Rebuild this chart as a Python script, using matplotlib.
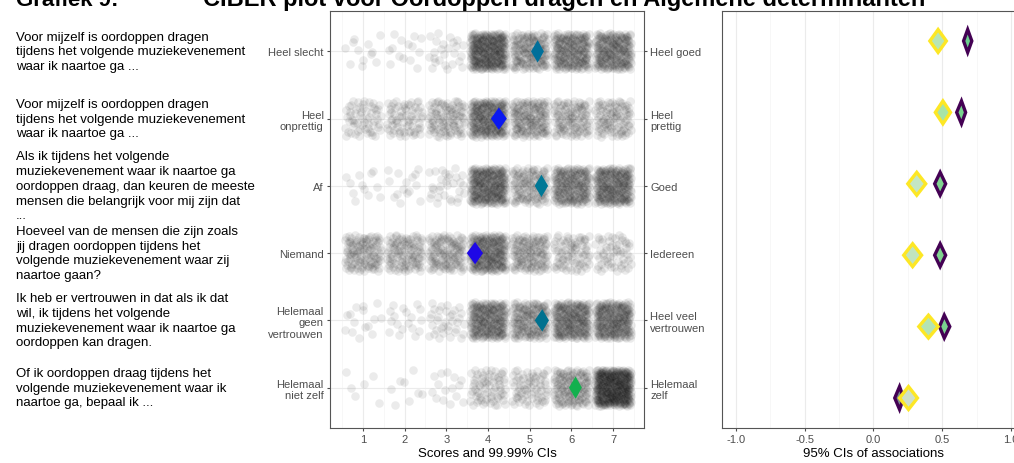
import numpy as np
import matplotlib
matplotlib.use('Agg')
from matplotlib import pyplot as plt
from matplotlib.patches import Polygon
from matplotlib.transforms import blended_transform_factory

plt.rcParams['font.family'] = ['Liberation Sans', 'DejaVu Sans']

# questions (left column), anchors left / right
questions = [
    'Voor mijzelf is oordoppen dragen\ntijdens het volgende muziekevenement\nwaar ik naartoe ga ...',
    'Voor mijzelf is oordoppen dragen\ntijdens het volgende muziekevenement\nwaar ik naartoe ga ...',
    'Als ik tijdens het volgende\nmuziekevenement waar ik naartoe ga\noordoppen draag, dan keuren de meeste\nmensen die belangrijk voor mij zijn dat\n...',
    'Hoeveel van de mensen die zijn zoals\njij dragen oordoppen tijdens het\nvolgende muziekevenement waar zij\nnaartoe gaan?',
    'Ik heb er vertrouwen in dat als ik dat\nwil, ik tijdens het volgende\nmuziekevenement waar ik naartoe ga\noordoppen kan dragen.',
    'Of ik oordoppen draag tijdens het\nvolgende muziekevenement waar ik\nnaartoe ga, bepaal ik ...',
]
anchors_low = ['Heel slecht', 'Heel\nonprettig', 'Af', 'Niemand',
               'Helemaal\ngeen\nvertrouwen', 'Helemaal\nniet zelf']
anchors_high = ['Heel goed', 'Heel\nprettig', 'Goed', 'Iedereen',
                'Heel veel\nvertrouwen', 'Helemaal\nzelf']

# number of respondents per score 1..7 (estimated from point density)
scores = [1, 2, 3, 4, 5, 6, 7]
counts = [
    [12, 14, 25, 280, 150, 200, 210],
    [60, 70, 100, 230, 150, 110, 100],
    [12, 15, 30, 250, 120, 200, 230],
    [120, 110, 120, 230, 130, 80, 60],
    [15, 18, 35, 220, 160, 220, 230],
    [6, 8, 15, 70, 70, 140, 380],
]

# means and 99.99% CIs
mean_lo = [5.03, 4.07, 5.12, 3.49, 5.12, 5.94]
mean_mid = [5.19, 4.26, 5.28, 3.69, 5.30, 6.10]
mean_hi = [5.34, 4.45, 5.44, 3.88, 5.46, 6.25]
mean_colors = ['#006f9a', '#0a18f0', '#007896', '#1e08e6', '#00718f', '#12b04e']

# 95% CIs of associations (two targets)
assoc1_lo = [0.655, 0.605, 0.445, 0.445, 0.48, 0.155]
assoc1_mid = [0.685, 0.64, 0.485, 0.485, 0.515, 0.19]
assoc1_hi = [0.715, 0.67, 0.525, 0.525, 0.555, 0.22]
assoc1_fill = ['#6ccf8e', '#78d48e', '#80d490', '#80d490', '#7ad290', '#7a8a8a']
assoc2_lo = [0.41, 0.45, 0.25, 0.22, 0.33, 0.19]
assoc2_mid = [0.47, 0.505, 0.315, 0.285, 0.40, 0.255]
assoc2_hi = [0.53, 0.56, 0.38, 0.35, 0.47, 0.32]
assoc2_fill = ['#b8e6b4', '#a8e4a8', '#c4e6c4', '#c0e4c0', '#b4e4b4', '#cfe0c8']

rows = np.arange(1, len(questions) + 1)


def diamond(ax, lo, mid, hi, y, h, face, edge='none', lw=0):
    pts = [(lo, y), (mid, y - h), (hi, y), (mid, y + h)]
    ax.add_patch(Polygon(pts, closed=True, facecolor=face, edgecolor=edge,
                         linewidth=lw, joinstyle='miter', zorder=5))


def halton(idx, base):
    out = np.zeros(len(idx))
    f = 1.0
    idx = idx.copy()
    while np.any(idx > 0):
        f /= base
        out += f * (idx % base)
        idx //= base
    return out


def jitter(n, start):
    # deterministic even spread (Halton sequence)
    i = np.arange(start, start + n)
    return halton(i, 2) - 0.5, halton(i, 3) - 0.5


fig = plt.figure(figsize=(10.14, 4.64), dpi=100)

ax = fig.add_axes([330 / 1014, 1 - 429 / 464, 314 / 1014, 417 / 464])
ax.set_xlim(0.21, 7.74)
ax.set_ylim(6.6, 0.4)

for r, row_counts in zip(rows, counts):
    for s, c in zip(scores, row_counts):
        dx, dy = jitter(c, 17 * r + 41 * s)
        ax.scatter(s + dx * 0.86, r + dy * 0.54, s=38, color='black',
                   alpha=0.08, linewidths=0, zorder=3)

for r in rows:
    i = r - 1
    diamond(ax, mean_lo[i], mean_mid[i], mean_hi[i], r, 0.167, mean_colors[i])

ax.set_xticks(scores)
ax.set_xticks(np.arange(0.5, 8, 1), minor=True)
ax.set_yticks(rows)
ax.set_yticklabels(anchors_low)
ax.grid(True, which='major', color='#ebebeb', lw=0.8, zorder=0)
ax.grid(True, which='minor', axis='x', color='#f4f4f4', lw=0.5, zorder=0)
ax.set_axisbelow(True)
ax.tick_params(which='minor', length=0)
ax.tick_params(axis='both', labelsize=8, labelcolor='#4d4d4d', color='#4d4d4d',
               length=2.5, width=0.8, pad=2)
for sp in ax.spines.values():
    sp.set_color('#555555')
    sp.set_linewidth(0.8)
ax.set_xlabel('Scores and 99.99% CIs', fontsize=9.5, labelpad=2)

ax2 = ax.twinx()
ax2.set_ylim(6.6, 0.4)
ax2.set_yticks(rows)
ax2.set_yticklabels(anchors_high)
ax2.tick_params(axis='y', labelsize=8, labelcolor='#4d4d4d', color='#4d4d4d',
                length=2.5, width=0.8, pad=2)
for sp in ax2.spines.values():
    sp.set_visible(False)

# question texts
tr = blended_transform_factory(fig.transFigure, ax.transData)
for r, q in zip(rows, questions):
    ax.text(16 / 1014, r, q, transform=tr, ha='left', va='center',
            fontsize=9.5, linespacing=1.3, color='black', clip_on=False)

# associations panel
bx = fig.add_axes([722 / 1014, 1 - 429 / 464, 302.8 / 1014, 417 / 464])
bx.set_xlim(-1.1, 1.1)
bx.set_ylim(6.42, 0.58)
for r in rows:
    i = r - 1
    diamond(bx, assoc1_lo[i], assoc1_mid[i], assoc1_hi[i], r, 0.16,
            assoc1_fill[i], '#440154', 2.4)
    diamond(bx, assoc2_lo[i], assoc2_mid[i], assoc2_hi[i], r, 0.16,
            assoc2_fill[i], '#fde725', 2.4)
bx.set_xticks([-1.0, -0.5, 0.0, 0.5, 1.0])
bx.set_xticklabels(['-1.0', '-0.5', '0.0', '0.5', '1.0'])
bx.set_xticks([-0.75, -0.25, 0.25, 0.75], minor=True)
bx.set_yticks([])
bx.grid(True, which='major', axis='x', color='#ebebeb', lw=0.8)
bx.grid(True, which='minor', axis='x', color='#f4f4f4', lw=0.5)
bx.set_axisbelow(True)
bx.tick_params(which='minor', length=0)
bx.tick_params(axis='x', labelsize=8, labelcolor='#4d4d4d', color='#4d4d4d',
               length=2.5, width=0.8, pad=2)
for sp in bx.spines.values():
    sp.set_color('#555555')
    sp.set_linewidth(0.8)
bx.set_xlabel('95% CIs of associations', fontsize=9.5, labelpad=2)

# title, cut off at the top edge
fig.text(16 / 1014, 1 - 6 / 464, 'Grafiek 9:', fontsize=16, fontweight='bold',
         ha='left', va='baseline')
fig.text(203 / 1014, 1 - 6 / 464,
         'CIBER plot voor Oordoppen dragen en Algemene determinanten',
         fontsize=17, fontweight='bold', ha='left', va='baseline')

fig.savefig('out.png', dpi=100)
